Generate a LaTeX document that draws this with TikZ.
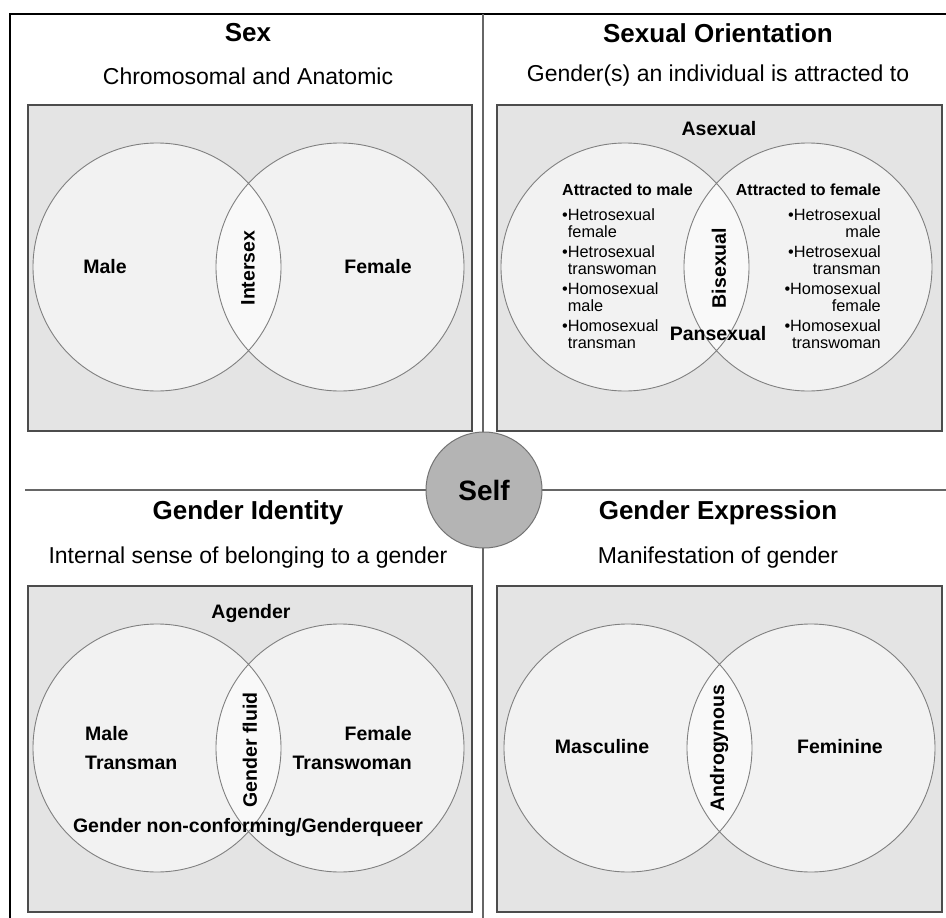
\documentclass[tikz,border=0pt]{standalone}
\usepackage{fontspec}
\setmainfont{Liberation Sans}
\usetikzlibrary{positioning}

\definecolor{boxgray}{HTML}{E4E4E4}
\definecolor{venngray}{HTML}{F2F2F2}
\definecolor{lensgray}{HTML}{F9F9F9}
\definecolor{selfgray}{HTML}{B4B4B4}

\begin{document}
\begin{tikzpicture}[x=1pt, y=-1pt,
  box/.style={draw=black!70, line width=1.8pt, fill=boxgray, minimum width=444pt, minimum height=326pt, anchor=north west, inner sep=0pt},
  title/.style={font=\bfseries\fontsize{26}{30}\selectfont},
  sub/.style={font=\fontsize{23}{27}\selectfont},
  lab/.style={font=\bfseries\fontsize{19.5}{29}\selectfont, inner sep=0pt},
  lst/.style={font=\fontsize{16.3}{17}\selectfont, inner sep=0pt},
  divider/.style={draw=black!60, line width=1.6pt},
  selfnode/.style={circle, draw=black!55, line width=1pt, fill=selfgray, minimum size=116pt, inner sep=0pt, font=\bfseries\fontsize{28}{32}\selectfont}]
  \useasboundingbox (0,0) rectangle (946,918);

  % frame and dividers
  \draw[line width=2.5pt] (946,14) -- (10,14) -- (10,918);
  \draw[divider] (483,14) -- (483,918);
  \draw[divider] (25,490) -- (946,490);

  % shaded boxes
  \node[box] (sexbox) at (27,104) {};
  \node[box, minimum width=445pt] (oribox) at (496,104) {};
  \node[box] (idbox) at (27,585) {};
  \node[box, minimum width=445pt] (exbox) at (496,585) {};

  % venn pairs
  \foreach \cx/\cy in {157/267, 625/267, 157/748, 628/748} {
    \fill[venngray] (\cx,\cy) circle (124pt) (\cx+183,\cy) circle (124pt);
    \begin{scope}
      \clip (\cx,\cy) circle (124pt);
      \fill[lensgray] (\cx+183,\cy) circle (124pt);
    \end{scope}
    \draw[black!50, line width=0.9pt] (\cx,\cy) circle (124pt) (\cx+183,\cy) circle (124pt);
  }

  % titles
  \node[title] (sextitle) at (248,33) {Sex};
  \node[sub] (sexsub) at (248,76) {Chromosomal and Anatomic};
  \node[title] (orititle) at (718,33) {Sexual Orientation};
  \node[sub] (orisub) at (718,76) {Gender(s) an individual is attracted to};
  \node[title] (idtitle) at (248,513) {Gender Identity};
  \node[sub] (idsub) at (248,558) {Internal sense of belonging to a gender};
  \node[title] (extitle) at (718,513) {Gender Expression};
  \node[sub] (exsub) at (718,558) {Manifestation of gender};

  % sex
  \node[lab] (male) at (105,267) {Male};
  \node[lab] (female) at (378,267) {Female};
  \node[lab, rotate=90] (intersex) at (248,268) {Intersex};

  % sexual orientation
  \node[lab] (asexual) at (719,129) {Asexual};
  \node[lab, rotate=90] (bisexual) at (719,268) {Bisexual};
  \node[lab] (pansexual) at (718,334) {Pansexual};
  \node[lst, align=left, anchor=north west] (tomale) at (562,184)
    {{\bfseries\fontsize{16}{17}\selectfont Attracted to male}\\[8pt]
     \textbullet Hetrosexual\\\phantom{\textbullet}female\\[3pt]
     \textbullet Hetrosexual\\\phantom{\textbullet}transwoman\\[3pt]
     \textbullet Homosexual\\\phantom{\textbullet}male\\[3pt]
     \textbullet Homosexual\\\phantom{\textbullet}transman};
  \node[lst, align=right, anchor=north east] (tofemale) at (881,184)
    {{\bfseries\fontsize{16}{17}\selectfont Attracted to female}\\[8pt]
     \textbullet Hetrosexual\\male\\[3pt]
     \textbullet Hetrosexual\\transman\\[3pt]
     \textbullet Homosexual\\female\\[3pt]
     \textbullet Homosexual\\transwoman};

  % gender identity
  \node[lab] (agender) at (251,613) {Agender};
  \node[lab, align=left, anchor=west] (idmale) at (85,748) {Male\\Transman};
  \node[lab, align=right, anchor=east] (idfemale) at (412,748) {Female\\Transwoman};
  \node[lab, rotate=90] (fluid) at (250,750) {Gender fluid};
  \node[lab] (queer) at (248,827) {Gender non-conforming/Genderqueer};

  % gender expression
  \node[lab] (masc) at (602,747) {Masculine};
  \node[lab] (femi) at (840,747) {Feminine};
  \node[lab, rotate=90] (andro) at (719,748) {Androgynous};

  % centre
  \node[selfnode] (self) at (484,490) {Self};
\end{tikzpicture}
\end{document}
